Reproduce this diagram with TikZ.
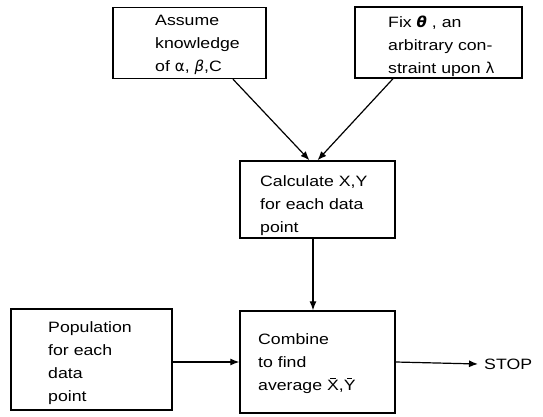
\documentclass[tikz,border=0pt]{standalone}
\usepackage{fontspec}
\setmainfont[FakeStretch=1.18]{Liberation Sans}
\newfontfamily\greekfont{DejaVu Sans}
\usetikzlibrary{arrows.meta}
% letter with a short bar above it
\newcommand\barred[1]{\setbox0\hbox{#1}\rlap{\hbox to\wd0{\hss\raisebox{\dimexpr\ht0+2pt\relax}{\rule{0.45\wd0}{0.8pt}}\hss}}#1}
\begin{document}
\begin{tikzpicture}[x=1pt,y=-1pt,
  box/.style={draw, line width=1.4pt, inner sep=0pt},
  txt/.style={anchor=west, align=left, inner sep=0pt,
    font=\fontsize{15}{23}\selectfont},
  arr/.style={line width=1.2pt, -{Latex[length=9pt,width=7pt]}}]
\useasboundingbox (0,0) rectangle (543,417);

% boxes
\node[box, minimum width=153pt, minimum height=71pt] (b1) at (189.5,43) {};
\node[box, minimum width=167pt, minimum height=71pt] (b2) at (438.5,42.5) {};
\node[box, minimum width=155pt, minimum height=77pt] (b3) at (317.5,199.5) {};
\node[box, minimum width=161pt, minimum height=101pt] (b4) at (91.5,359.5) {};
\node[box, minimum width=155pt, minimum height=102pt] (b5) at (317.5,362) {};

% box texts
\node[txt] (t1) at (155,45) {Assume\\knowledge\\of {\greekfont α}, {\greekfont\itshape β},C};
\node[txt] (t2) at (388,46) {Fix {\greekfont\bfseries\itshape θ} , an\\arbitrary con-\\straint upon {\greekfont λ}};
\node[txt] (t3) at (260,206) {Calculate X,Y\\for each data\\point};
\node[txt] (t4) at (48,363) {Population\\for each\\data\\point};
\node[txt] (t5) at (258,364) {Combine\\to find\\average \barred{X},\barred{Y}};
\node[txt] (stop) at (484,364) {STOP};

% connectors
\draw[arr] ([xshift=43.5pt]b1.south) -- ([xshift=-8pt]b3.north);
\draw[arr] ([xshift=-45.5pt]b2.south) -- ([xshift=0pt]b3.north);
\draw[arr] ([xshift=-4.5pt]b3.south) -- ([xshift=-4.5pt]b5.north);
\draw[arr] (b5.west -| b4.east) -- (b5.west);
\draw[arr] (b5.east) -- ([xshift=-6pt]stop.west);
\end{tikzpicture}
\end{document}
